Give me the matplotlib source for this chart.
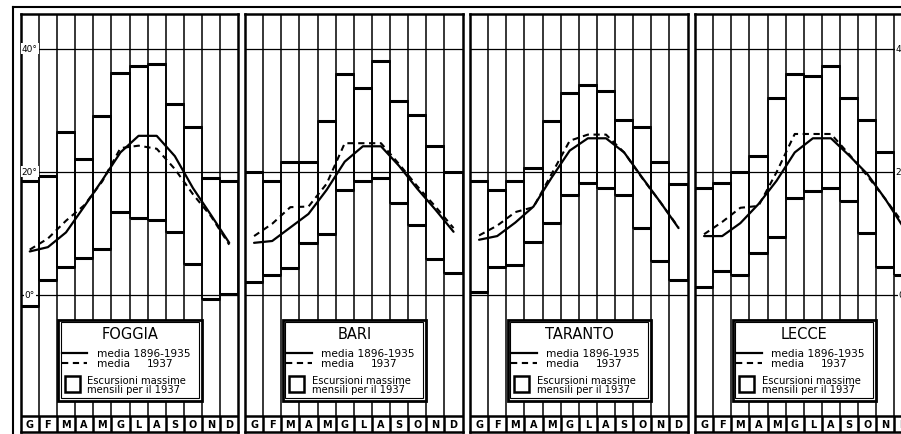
import matplotlib
matplotlib.use("Agg")
import matplotlib.pyplot as plt
from matplotlib.patches import Rectangle
from matplotlib.lines import Line2D

# --- dati (gradi C) ---
mesi = ['G', 'F', 'M', 'A', 'M', 'G', 'L', 'A', 'S', 'O', 'N', 'D']
stazioni = ['FOGGIA', 'BARI', 'TARANTO', 'LECCE']

foggia_max = [18.4, 19.2, 26.5, 22.0, 29.1, 36.0, 37.2, 37.5, 31.0, 27.2, 18.9, 18.5]
foggia_min = [-1.8, 2.4, 4.4, 6.0, 7.4, 13.4, 12.4, 12.1, 10.1, 5.0, -0.7, 0.1]
foggia_media = [7.0, 7.7, 10.1, 14.3, 18.6, 23.1, 25.8, 25.8, 22.5, 17.3, 12.9, 8.4]
foggia_1937 = [7.3, 9.1, 12.0, 14.5, 18.4, 23.8, 24.2, 23.7, 20.4, 16.3, 12.7, 8.1]

bari_max = [19.9, 18.5, 21.5, 21.5, 28.2, 35.8, 33.5, 38.0, 31.4, 29.2, 24.2, 19.9]
bari_min = [2.0, 3.2, 4.3, 8.3, 9.8, 17.0, 18.5, 18.9, 14.9, 11.3, 5.8, 3.5]
bari_media = [8.4, 8.7, 10.9, 13.1, 17.0, 21.6, 24.1, 24.1, 20.9, 17.2, 13.8, 10.2]
bari_1937 = [9.5, 11.5, 14.2, 14.3, 18.0, 24.6, 24.6, 24.6, 21.2, 17.6, 14.3, 10.8]

taranto_max = [18.4, 17.0, 18.5, 20.5, 28.2, 32.8, 34.0, 33.1, 28.4, 27.3, 21.5, 17.9]
taranto_min = [0.4, 4.4, 4.8, 8.6, 11.6, 16.2, 18.2, 17.3, 16.1, 10.8, 5.5, 2.4]
taranto_media = [8.9, 9.5, 11.7, 14.3, 19.0, 23.4, 25.4, 25.4, 23.1, 19.0, 15.0, 10.8]
taranto_1937 = [9.6, 11.2, 13.4, 14.2, 19.6, 25.0, 26.0, 26.0, 23.1, 18.9, 15.0, 10.9]

lecce_max = [17.3, 18.1, 20.0, 22.5, 32.0, 35.9, 35.6, 37.2, 32.0, 28.3, 23.2, 19.5]
lecce_min = [1.3, 3.9, 3.2, 6.7, 9.4, 15.7, 16.8, 17.3, 15.2, 10.0, 4.4, 3.1]
lecce_media = [9.5, 9.5, 11.6, 14.7, 18.5, 23.1, 25.4, 25.4, 22.6, 19.6, 15.5, 10.9]
lecce_1937 = [9.8, 11.8, 14.1, 14.4, 19.9, 26.1, 26.1, 26.1, 22.8, 19.3, 15.5, 11.5]

tacche_y = [0, 20, 40]

massimi = [foggia_max, bari_max, taranto_max, lecce_max]
minimi = [foggia_min, bari_min, taranto_min, lecce_min]
medie = [foggia_media, bari_media, taranto_media, lecce_media]
medie_1937 = [foggia_1937, bari_1937, taranto_1937, lecce_1937]

# --- geometria in pixel ---
W, H = 901, 435
Y0 = 295.5      # riga pixel dello 0°
PX = 6.15       # pixel per grado
TOP, ROW, BOTTOM = 15, 417, 433
y_top = (Y0 - TOP) / PX
y_row = (Y0 - ROW) / PX
y_bot = (Y0 - BOTTOM) / PX
sinistre = [20.7, 245, 470, 695]
larg = 217.6
colpx = larg / 12

fig = plt.figure(figsize=(W / 100, H / 100), dpi=100)
fig.patch.set_facecolor('white')

def gr(px):
    # converte un'altezza in pixel in gradi
    return px / PX

def col(px):
    return px / colpx

for k, nome in enumerate(stazioni):
    ax = fig.add_axes([sinistre[k] / W, (H - BOTTOM) / H, larg / W, (BOTTOM - TOP) / H])
    ax.set_xlim(0, 12)
    ax.set_ylim(y_bot, y_top)
    ax.set_xticks([])
    ax.set_yticks([])
    for s in ax.spines.values():
        s.set_linewidth(1.8)

    # griglia delle colonne
    ax.vlines(range(1, 12), y_row, y_top, color='black', lw=1.1, zorder=1)
    ax.vlines(range(1, 12), y_bot, y_row, color='black', lw=1.8, zorder=1)
    ax.axhline(y_row, color='black', lw=1.8, zorder=1)
    ax.hlines(tacche_y, 0, 12, color='black', lw=0.9, zorder=1)

    # escursioni massime (barre fluttuanti): contorno sottile, estremi spessi
    alt = [a - b for a, b in zip(massimi[k], minimi[k])]
    ax.bar(range(12), alt, bottom=minimi[k], width=1, align='edge',
           fill=False, edgecolor='black', linewidth=1.1, zorder=2)
    ax.hlines(massimi[k], range(12), range(1, 13), color='black', lw=2.2, zorder=2)
    ax.hlines(minimi[k], range(12), range(1, 13), color='black', lw=2.2, zorder=2)

    # curve delle medie
    xm = [i + 0.5 for i in range(12)]
    ax.plot(xm, medie[k], color='black', lw=1.6, zorder=3, solid_capstyle='round')
    ax.plot(xm, medie_1937[k], color='black', lw=1.5, ls=(0, (3, 2.2)), zorder=3)

    # etichette dei mesi
    for i, m in enumerate(mesi):
        ax.text(i + 0.5, (y_row + y_bot) / 2, m, ha='center', va='center',
                fontsize=7, fontweight='bold', zorder=4)

    # gradi sull'asse
    if k == 0 or k == 3:
        xl = 0.5 if k == 0 else 11.5
        for v in tacche_y:
            ax.text(xl, v, f'{v}°', ha='center', va='center', fontsize=6.5,
                    zorder=4, bbox=dict(fc='white', ec='none', pad=0.6))

    # riquadro della legenda
    bx0, bx1 = col(58.3 - 20.7), col(201.7 - 20.7)
    by0, by1 = (Y0 - 401.7) / PX, (Y0 - 320.7) / PX
    ax.add_patch(Rectangle((bx0, by0), bx1 - bx0, by1 - by0, fc='white',
                           ec='black', lw=2.0, zorder=5))
    ax.add_patch(Rectangle((bx0 + col(2.7), by0 + gr(2.7)), bx1 - bx0 - 2 * col(2.7),
                           by1 - by0 - 2 * gr(2.7), fill=False, ec='black', lw=0.8, zorder=6))

    ax.text((bx0 + bx1) / 2, (Y0 - 335) / PX, nome, ha='center', va='center',
            fontsize=10.5, zorder=7)
    y1 = (Y0 - 354) / PX
    y2 = (Y0 - 364) / PX
    ax.plot([col(41), col(66.6)], [y1, y1], color='black', lw=1.6, zorder=7)
    ax.plot([col(41), col(66.6)], [y2, y2], color='black', lw=1.5, ls=(0, (3, 2.2)), zorder=7)
    ax.text(col(76), y1, 'media 1896-1935', ha='left', va='center', fontsize=7.6, zorder=7)
    ax.text(col(76), y2, 'media', ha='left', va='center', fontsize=7.6, zorder=7)
    ax.text(col(126), y2, '1937', ha='left', va='center', fontsize=7.6, zorder=7)
    ax.add_patch(Rectangle((col(44.3), (Y0 - 392.7) / PX), col(15), gr(16),
                           fill=False, ec='black', lw=1.8, zorder=7))
    ax.text(col(66.6), (Y0 - 381.5) / PX, 'Escursioni massime', ha='left', va='center',
            fontsize=7.2, zorder=7)
    ax.text(col(66.6), (Y0 - 390) / PX, 'mensili per il 1937', ha='left', va='center',
            fontsize=7.2, zorder=7)

# cornice esterna del foglio
fig.add_artist(Line2D([13 / W, 13 / W], [0, 1 - 8 / H], transform=fig.transFigure,
                      color='black', lw=1.5))
fig.add_artist(Line2D([13 / W, 1], [1 - 8 / H, 1 - 8 / H], transform=fig.transFigure,
                      color='black', lw=1.5))

plt.savefig('out.png', dpi=100)
plt.close()
